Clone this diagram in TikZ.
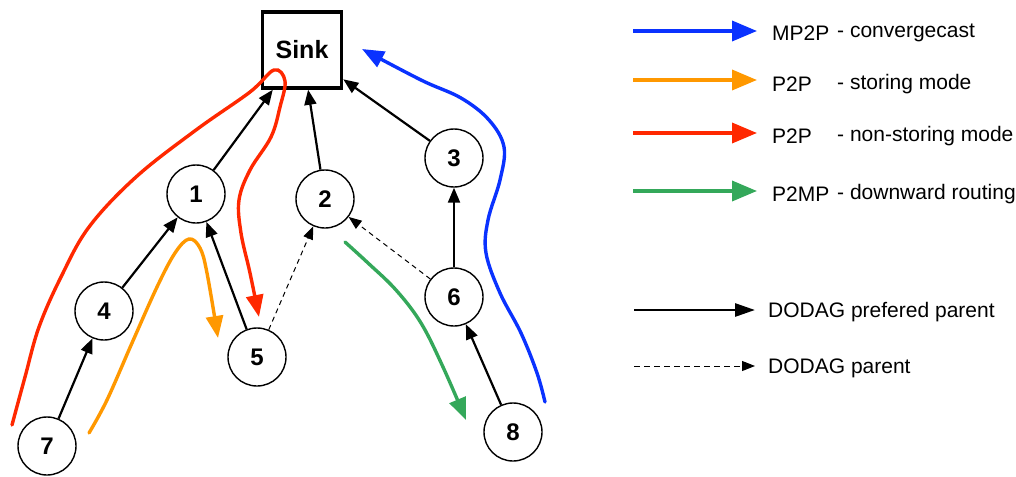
\documentclass[tikz,border=0pt]{standalone}
\usepackage{fontspec}
\setmainfont{Liberation Sans}
\usetikzlibrary{arrows.meta}
\definecolor{cblue}{RGB}{10,50,255}
\definecolor{corange}{RGB}{255,152,0}
\definecolor{cred}{RGB}{255,40,0}
\definecolor{cgreen}{RGB}{52,168,90}
\tikzset{
  vertex/.style={circle,draw,line width=1.4pt,minimum size=58pt,inner sep=0pt,font=\fontsize{24}{28}\selectfont\bfseries},
  sinkbox/.style={draw,line width=3.5pt,minimum width=79pt,minimum height=76pt,inner sep=0pt,font=\fontsize{25}{30}\selectfont\bfseries},
  pref/.style={line width=2.2pt,-{Triangle[length=15pt,width=12pt]}},
  par/.style={line width=1pt,dash pattern=on 5pt off 4pt,-{Triangle[length=13pt,width=10pt]}},
  route/.style={line width=3.4pt,line cap=round,-{Triangle[length=22pt,width=17pt]}},
  legroute/.style={line width=3.6pt,-{Triangle[length=25pt,width=20pt]}},
  legpref/.style={line width=2.8pt,-{Triangle[length=20pt,width=13pt]}},
  legpar/.style={line width=1pt,dash pattern=on 6pt off 4pt,-{Triangle[length=13pt,width=10pt]}},
  legtext/.style={anchor=west,inner sep=0pt,font=\fontsize{21}{25}\selectfont}
}
\begin{document}
\begin{tikzpicture}[x=1pt,y=-1pt]
\useasboundingbox (0,0) rectangle (1016,476);
% nodes
\node[sinkbox] (sink) at (302,50) {Sink};
\node[vertex] (n1) at (196,194) {1};
\node[vertex] (n2) at (325,199) {2};
\node[vertex] (n3) at (454,158) {3};
\node[vertex] (n4) at (104,311) {4};
\node[vertex] (n5) at (257,357) {5};
\node[vertex] (n6) at (454,297) {6};
\node[vertex] (n7) at (47,446) {7};
\node[vertex] (n8) at (513,432) {8};
% DODAG edges
\draw[pref] (n1) -- (sink);
\draw[pref] (n2) -- (sink);
\draw[pref] (n3) -- (sink);
\draw[pref] (n4) -- (n1);
\draw[pref] (n5) -- (n1);
\draw[pref] (n6) -- (n3);
\draw[pref] (n7) -- (n4);
\draw[pref] (n8) -- (n6);
\draw[par] (n5) -- (n2);
\draw[par] (n6) -- (n2);
% routes
\draw[route,cred] plot[smooth,tension=0.6] coordinates {(12,425) (25,377) (39,327) (61,277) (89,227) (136,177) (196,130) (250,92) (274,70) (285,81) (280,107) (271,137) (250,170) (239,200) (241,233) (250,273) (259,317)};
\draw[route,corange] plot[smooth,tension=0.6] coordinates {(89,433) (107,400) (132,343) (157,287) (175,253) (189,239) (200,248) (207,273) (218,338)};
\draw[route,cgreen] plot[smooth,tension=0.6] coordinates {(345,242) (368,263) (396,290) (421,323) (443,367) (466,420)};
\draw[route,cblue] plot[smooth,tension=0.6] coordinates {(545,402) (537,373) (521,333) (500,293) (486,253) (488,220) (500,180) (504,147) (489,120) (461,98) (421,80) (362,49)};
% legend
\coordinate (a1) at (633,31);  \coordinate (b1) at (757,31);
\coordinate (a2) at (633,80);  \coordinate (b2) at (757,80);
\coordinate (a3) at (633,133); \coordinate (b3) at (757,133);
\coordinate (a4) at (633,191); \coordinate (b4) at (757,191);
\coordinate (a5) at (634,310); \coordinate (b5) at (755,310);
\coordinate (a6) at (634,366); \coordinate (b6) at (755,366);
\draw[legroute,cblue] (a1) -- (b1);
\draw[legroute,corange] (a2) -- (b2);
\draw[legroute,cred] (a3) -- (b3);
\draw[legroute,cgreen] (a4) -- (b4);
\draw[legpref] (a5) -- (b5);
\draw[legpar] (a6) -- (b6);
\node[legtext] (t1a) at (772,33) {MP2P};
\node[legtext] (t1b) at (837,33) {- convergecast};
\node[legtext] (t2a) at (772,84) {P2P};
\node[legtext] (t2b) at (837,84) {- storing mode};
\node[legtext] (t3a) at (772,136) {P2P};
\node[legtext] (t3b) at (837,136) {- non-storing mode};
\node[legtext] (t4a) at (772,194) {P2MP};
\node[legtext] (t4b) at (837,194) {- downward routing};
\node[legtext] (t5) at (768,312) {DODAG prefered parent};
\node[legtext] (t6) at (768,368) {DODAG parent};
\end{tikzpicture}
\end{document}
